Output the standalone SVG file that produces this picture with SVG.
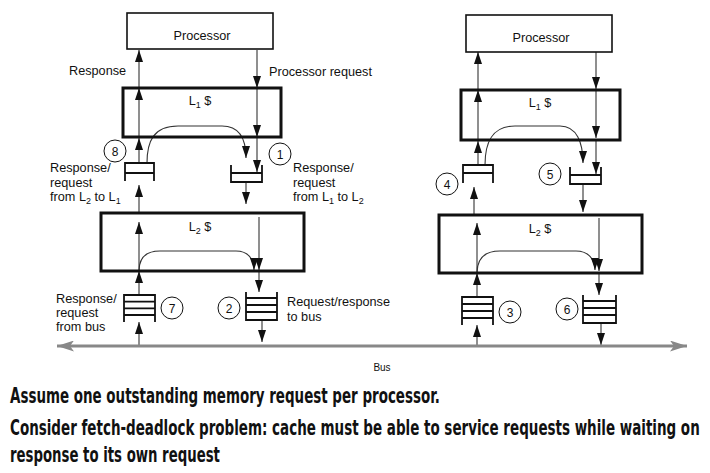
<svg xmlns="http://www.w3.org/2000/svg" width="710" height="473" viewBox="0 0 710 473">
<style>
text{font-family:"Liberation Sans",Arial,sans-serif;fill:#111}
.lbl{font-size:12.7px}
.sub{font-size:9px}
.num{font-size:12px;text-anchor:middle}
.proc{fill:#fff;stroke:#111;stroke-width:1.6}
.cache{fill:none;stroke:#111;stroke-width:3}
.q{fill:none;stroke:#111;stroke-width:1.8}
.a{fill:none;stroke:#333;stroke-width:1.1;marker-end:url(#ah)}
.c{fill:#fff;stroke:#111;stroke-width:1}
.bold{font-family:"DejaVu Sans Condensed","DejaVu Sans",sans-serif;font-weight:bold;font-size:21px;font-stretch:condensed}
</style>
<defs>
<marker id="ah" markerUnits="userSpaceOnUse" markerWidth="12" markerHeight="8" refX="12" refY="4" orient="auto" viewBox="0 0 12 8">
<path d="M0,0 L12,4 L0,8 z" fill="#111"/>
</marker>
<marker id="bh" markerUnits="userSpaceOnUse" markerWidth="17" markerHeight="11" refX="17" refY="5.5" orient="auto" viewBox="0 0 17 11">
<path d="M0,0 L17,5.5 L0,11 L4,5.5 z" fill="#888"/>
</marker>
</defs>

<g id="connectors">
<!-- left column -->
<line class="a" x1="139" y1="163" x2="139" y2="138"/>
<line class="a" x1="139" y1="137" x2="139" y2="88"/>
<line class="a" x1="139" y1="88" x2="139" y2="50"/>
<line class="a" x1="257" y1="50" x2="257" y2="88"/>
<line class="a" x1="257" y1="89" x2="257" y2="137"/>
<line class="a" x1="257" y1="138" x2="257" y2="172"/>
<path class="a" d="M147,163 C147,142 153,126 178,126 L222,126 C240,126 246,140 246,158"/>
<line class="a" x1="246" y1="182" x2="246" y2="204"/>
<line class="a" x1="139" y1="213" x2="139" y2="185"/>
<line class="a" x1="139" y1="271" x2="139" y2="222"/>
<line class="a" x1="139" y1="295" x2="139" y2="271"/>
<line class="a" x1="259" y1="217" x2="259" y2="270"/>
<line class="a" x1="259" y1="271" x2="259" y2="292"/>
<path class="a" d="M139,271 C139,258 145,251 160,251 L236,251 C248,251 254,259 254,270"/>
<line class="a" x1="139" y1="345" x2="139" y2="322"/>
<line class="a" x1="262" y1="320" x2="262" y2="342"/>
<!-- right column -->
<line class="a" x1="478" y1="165" x2="478" y2="141"/>
<line class="a" x1="478" y1="140" x2="478" y2="90"/>
<line class="a" x1="478" y1="90" x2="478" y2="52"/>
<line class="a" x1="596" y1="52" x2="596" y2="89"/>
<line class="a" x1="596" y1="90" x2="596" y2="138"/>
<line class="a" x1="596" y1="140" x2="596" y2="174"/>
<path class="a" d="M485,165 C485,142 492,126 515,126 L560,126 C577,126 583,143 583,163"/>
<line class="a" x1="583" y1="184" x2="583" y2="212"/>
<line class="a" x1="474" y1="215" x2="474" y2="187"/>
<line class="a" x1="477" y1="273" x2="477" y2="223"/>
<line class="a" x1="477" y1="297" x2="477" y2="273"/>
<line class="a" x1="599" y1="218" x2="599" y2="271"/>
<line class="a" x1="599" y1="273" x2="599" y2="295"/>
<path class="a" d="M477,273 C477,259 484,251 500,251 L576,251 C588,251 595,259 595,270"/>
<line class="a" x1="477" y1="345" x2="477" y2="325"/>
<line class="a" x1="601" y1="323" x2="601" y2="345"/>
<!-- bus -->
<line x1="372" y1="346" x2="687" y2="346" stroke="#888" stroke-width="3" marker-end="url(#bh)"/>
<line x1="372" y1="346" x2="57" y2="346" stroke="#888" stroke-width="3" marker-end="url(#bh)"/>
</g>

<g id="processor-left"><rect class="proc" x="127" y="13" width="146" height="36"/><text class="lbl" x="202" y="39.5" text-anchor="middle">Processor</text></g>
<g id="l1-left"><rect class="cache" x="123" y="88" width="158" height="49"/><text class="lbl" x="200" y="104.5" text-anchor="middle">L<tspan class="sub" dy="3">1</tspan><tspan dy="-3"> $</tspan></text></g>
<g id="l2-left"><rect class="cache" x="101" y="213" width="203" height="58"/><text class="lbl" x="200" y="231" text-anchor="middle">L<tspan class="sub" dy="3">2</tspan><tspan dy="-3"> $</tspan></text></g>

<g id="processor-right"><rect class="proc" x="466" y="15" width="146" height="37"/><text class="lbl" x="541" y="41.5" text-anchor="middle">Processor</text></g>
<g id="l1-right"><rect class="cache" x="461" y="90" width="159" height="50"/><text class="lbl" x="540" y="107" text-anchor="middle">L<tspan class="sub" dy="3">1</tspan><tspan dy="-3"> $</tspan></text></g>
<g id="l2-right"><rect class="cache" x="439" y="215" width="203" height="58"/><text class="lbl" x="540" y="233" text-anchor="middle">L<tspan class="sub" dy="3">2</tspan><tspan dy="-3"> $</tspan></text></g>

<g id="queue8"><path class="q" d="M125,181 V163 H154 V181 M125,173 H154"/></g>
<g id="queue1"><path class="q" d="M231,165 V182 H262 V165 M231,173 H262"/></g>
<g id="queue7"><path class="q" d="M124,322 V295 H155 V322 M124,301.7 H155 M124,308.3 H155 M124,315 H155"/></g>
<g id="queue2"><path class="q" d="M246,292 V320 H277 V292 M246,298 H277 M246,305 H277 M246,312 H277"/></g>
<g id="queue4"><path class="q" d="M463,183 V165 H493 V183 M463,173 H493"/></g>
<g id="queue5"><path class="q" d="M570,167 V184 H601 V167 M570,175 H601"/></g>
<g id="queue3"><path class="q" d="M462,325 V297 H493 V325 M462,304 H493 M462,311 H493 M462,318 H493"/></g>
<g id="queue6"><path class="q" d="M583,295 V323 H616 V295 M583,301 H616 M583,308 H616 M583,315 H616"/></g>

<g id="c8"><circle class="c" cx="115" cy="151" r="11"/><text class="num" x="115" y="155.5">8</text></g>
<g id="c1"><circle class="c" cx="280" cy="154" r="11"/><text class="num" x="280" y="158.5">1</text></g>
<g id="c7"><circle class="c" cx="172" cy="308" r="11"/><text class="num" x="172" y="312.5">7</text></g>
<g id="c2"><circle class="c" cx="229" cy="308" r="11"/><text class="num" x="229" y="312.5">2</text></g>
<g id="c4"><circle class="c" cx="447" cy="184" r="11"/><text class="num" x="447" y="188.5">4</text></g>
<g id="c5"><circle class="c" cx="550" cy="174" r="11"/><text class="num" x="550" y="178.5">5</text></g>
<g id="c3"><circle class="c" cx="510" cy="312" r="11"/><text class="num" x="510" y="316.5">3</text></g>
<g id="c6"><circle class="c" cx="567" cy="309" r="11"/><text class="num" x="567" y="313.5">6</text></g>

<g id="labels">
<text class="lbl" x="69" y="74.5">Response</text>
<text class="lbl" x="269" y="75.5">Processor request</text>
<text class="lbl" x="50" y="172">Response/</text>
<text class="lbl" x="50" y="187">request</text>
<text class="lbl" x="50" y="201">from L<tspan class="sub" dy="3">2</tspan><tspan dy="-3"> to L</tspan><tspan class="sub" dy="3">1</tspan></text>
<text class="lbl" x="293" y="172">Response/</text>
<text class="lbl" x="293" y="187">request</text>
<text class="lbl" x="293" y="201">from L<tspan class="sub" dy="3">1</tspan><tspan dy="-3"> to L</tspan><tspan class="sub" dy="3">2</tspan></text>
<text class="lbl" x="56" y="303">Response/</text>
<text class="lbl" x="56" y="317">request</text>
<text class="lbl" x="56" y="331">from bus</text>
<text class="lbl" x="287" y="306">Request/response</text>
<text class="lbl" x="287" y="321">to bus</text>
<text x="382" y="371" font-size="10" text-anchor="middle">Bus</text>
</g>

<g id="notes">
<text class="bold" transform="translate(10,403) scale(0.714,1)" textLength="602" lengthAdjust="spacingAndGlyphs">Assume one outstanding memory request per processor.</text>
<text class="bold" transform="translate(10,435) scale(0.714,1)" textLength="966" lengthAdjust="spacingAndGlyphs">Consider fetch-deadlock problem: cache must be able to service requests while waiting on</text>
<text class="bold" transform="translate(10,462) scale(0.714,1)" textLength="294" lengthAdjust="spacingAndGlyphs">response to its own request</text>
</g>
</svg>
